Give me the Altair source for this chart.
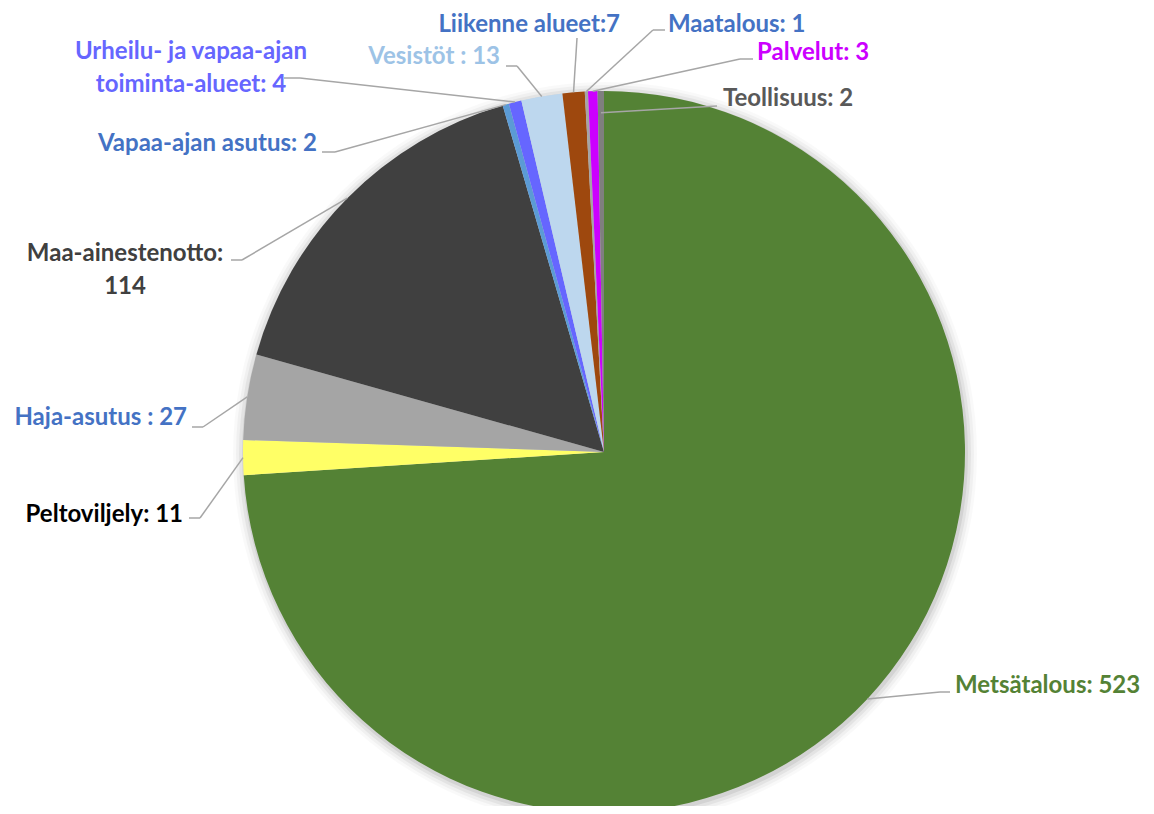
import math
import altair as alt
import pandas as pd

# ---------------- data ----------------
categories = ["Metsätalous", "Peltoviljely", "Haja-asutus", "Maa-ainestenotto",
              "Vapaa-ajan asutus", "Urheilu- ja vapaa-ajan toiminta-alueet", "Vesistöt",
              "Liikenne alueet", "Maatalous", "Palvelut", "Teollisuus"]
values = [523, 11, 27, 114, 2, 4, 13, 7, 1, 3, 2]
label_texts = ["Metsätalous: 523", "Peltoviljely: 11", "Haja-asutus : 27",
               "Maa-ainestenotto:\n114", "Vapaa-ajan asutus: 2",
               "Urheilu- ja vapaa-ajan\ntoiminta-alueet: 4", "Vesistöt : 13",
               "Liikenne alueet:7", "Maatalous: 1", "Palvelut: 3", "Teollisuus: 2"]

# ---------------- styles ----------------
slice_colors = ["#548235", "#FFFF66", "#A5A5A5", "#404040", "#5B9BD5", "#6666FF",
                "#BDD7EE", "#9E480E", "#A5A5A5", "#CC00FF", "#7F7F7F"]
label_colors = ["#548235", "#000000", "#4472C4", "#404040", "#4472C4", "#6666FF",
                "#9DC3E6", "#4472C4", "#4472C4", "#CC00FF", "#595959"]

# ---------------- layout (pixels) ----------------
W, H = 1138, 798
CX, CY, R = 596, 444, 361
label_x = [947, 175, 179, 117, 309, 183, 492, 612, 660, 749, 715]
label_y = [678, 507, 410, 246, 136, 44, 49, 17, 17, 45, 91]
label_align = ["left", "right", "right", "center", "right", "center", "right",
               "right", "left", "left", "left"]
elbow_x = [932, 192, 195, 234, 327, 292, 509, 569, 645, 732, 709]
elbow_y = [684, 510, 419, 252, 144, 70, 58, 30, 22, 51, 98]
end_x = [942, 181, 184, 223, 314, 276, 498, 569, 657, 745, 709]
end_y = [684, 510, 419, 252, 144, 70, 58, 30, 22, 51, 98]
start_frac = [1.0, 1.0, 1.0, 1.0, 1.0, 1.0, 1.0, 1.0, 1.0, 1.0, 0.94]

FONT = "Lato"
FS = 24

df = pd.DataFrame({
    "idx": list(range(len(categories))),
    "category": categories,
    "value": values,
    "label": label_texts,
    "scol": slice_colors,
    "lcol": label_colors,
    "lx": label_x, "ly": label_y, "align": label_align,
    "ex": elbow_x, "ey": elbow_y, "nx": end_x, "ny": end_y, "frac": start_frac,
})

base = alt.Chart(df)

# soft glow / shadow around the pie
shadows = []
for k, op in [(11, 0.025), (8, 0.035), (5, 0.05), (2, 0.07)]:
    shadows.append(
        alt.Chart(pd.DataFrame({"a": [0]})).mark_arc(
            theta=0, theta2=2 * math.pi, outerRadius=R + k, fill="#000000",
            opacity=op, stroke=None
        ).encode(x=alt.value(CX + 1), y=alt.value(CY + 2))
    )

pie = base.mark_arc(outerRadius=R, stroke=None).encode(
    theta=alt.Theta("value:Q", stack=True),
    order=alt.Order("idx:Q"),
    color=alt.Color("scol:N", scale=None),
    x=alt.value(CX),
    y=alt.value(CY),
)

lead = base.transform_window(
    cum="sum(value)", sort=[alt.SortField("idx")], frame=[None, 0]
).transform_joinaggregate(
    total="sum(value)"
).transform_calculate(
    mid="2*PI*(datum.cum - datum.value/2)/datum.total",
).transform_calculate(
    sx=f"{CX} + {R}*datum.frac*sin(datum.mid)",
    sy=f"{CY} - {R}*datum.frac*cos(datum.mid)",
)

seg1 = lead.mark_rule(color="#A6A6A6", strokeWidth=1.5).encode(
    x=alt.X("sx:Q", scale=None), y=alt.Y("sy:Q", scale=None),
    x2="ex:Q", y2="ey:Q",
)
seg2 = base.mark_rule(color="#A6A6A6", strokeWidth=1.5).encode(
    x=alt.X("ex:Q", scale=None), y=alt.Y("ey:Q", scale=None),
    x2="nx:Q", y2="ny:Q",
)

texts = []
for al in ["left", "right", "center"]:
    texts.append(
        base.transform_filter(alt.datum.align == al).mark_text(
            align=al, baseline="middle", font=FONT, fontSize=FS, fontWeight="bold",
            lineBreak="\n", lineHeight=33,
        ).encode(
            x=alt.X("lx:Q", scale=None), y=alt.Y("ly:Q", scale=None),
            text="label:N", color=alt.Color("lcol:N", scale=None),
        )
    )

chart = alt.layer(*shadows, pie, seg1, seg2, *texts).properties(
    width=W, height=H,
    autosize=alt.AutoSizeParams(type="none"),
    padding=0,
).configure_view(strokeWidth=0)

chart.save("out.html", embed_options={"renderer": "svg", "actions": False})
